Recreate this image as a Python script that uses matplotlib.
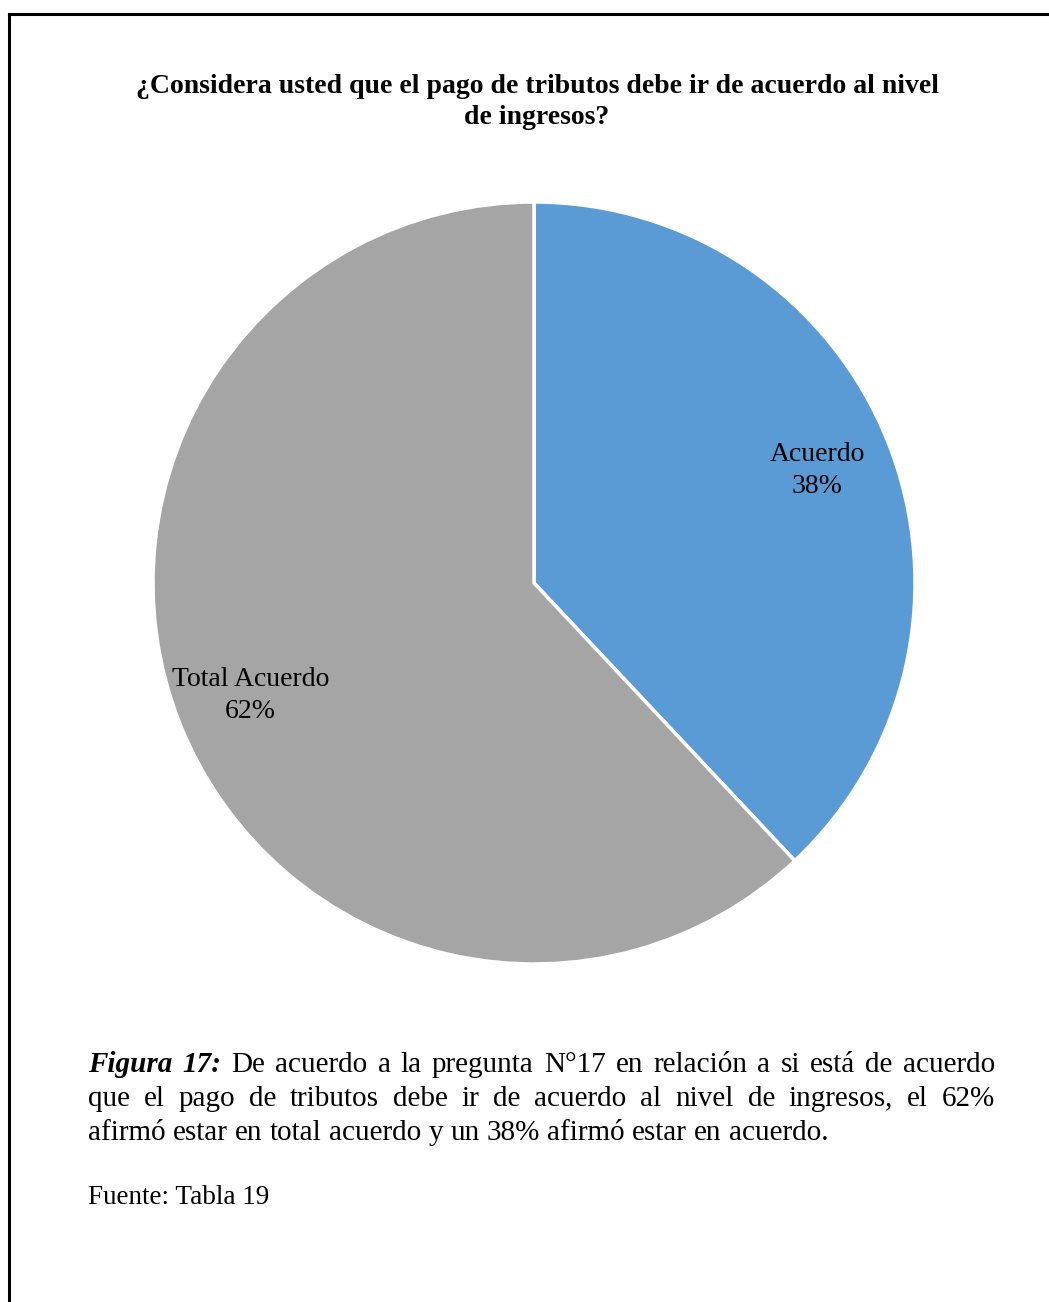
import matplotlib
matplotlib.use('Agg')
import matplotlib.pyplot as plt
from matplotlib.lines import Line2D

# --- DATOS ---
categorias = ['Acuerdo', 'Total Acuerdo']
porcentajes = [38, 62]
colores = ['#5B9BD5', '#A5A5A5']

titulo = '¿Considera usted que el pago de tributos debe ir de acuerdo al nivel\nde ingresos?'
leyenda_lineas = [
    'De acuerdo a la pregunta N°17 en relación a si está de acuerdo',
    'que el pago de tributos debe ir de acuerdo al nivel de ingresos, el 62%',
    'afirmó estar en total acuerdo y un 38% afirmó estar en acuerdo.',
]
fuente = 'Fuente: Tabla 19'

W, H = 1049, 1302
plt.rcParams['font.family'] = ['Liberation Serif', 'DejaVu Serif']
fig = plt.figure(figsize=(W / 100, H / 100), dpi=100)

def fx(px):
    return px / W

def fy(py):
    return 1 - py / H

# marco
fig.add_artist(Line2D([fx(9), fx(9)], [fy(14), 0], color='black', lw=2.2))
fig.add_artist(Line2D([fx(9), 1], [fy(14), fy(14)], color='black', lw=2.2))

# titulo
fig.text(fx(537), fy(102), titulo, ha='center', va='center', fontsize=20,
         fontweight='bold', linespacing=1.3)

# --- PASTEL ---
cx, cy, r = 534, 583, 381
ax = fig.add_axes([fx(cx - r), fy(cy + r), (2 * r) / W, (2 * r) / H])
etiquetas = [f'{c}\n{p}%' for c, p in zip(categorias, porcentajes)]
wedges, textos = ax.pie(porcentajes, labels=etiquetas, colors=colores, startangle=90,
                        counterclock=False, labeldistance=0.8,
                        wedgeprops=dict(edgecolor='white', linewidth=2.5),
                        textprops=dict(fontsize=20, linespacing=1.35))
for t in textos:
    t.set_ha('center')
    t.set_va('center')
ax.set_xlim(-1, 1)
ax.set_ylim(-1, 1)
ax.set_aspect('equal')
ax.axis('off')

# --- LEYENDA JUSTIFICADA ---
fig.canvas.draw()
renderer = fig.canvas.get_renderer()
x0, x1 = 88, 995
ys = [1065, 1099, 1133]
fs = 21

def ancho(txt, **kw):
    t = fig.text(0, 0, txt, fontsize=fs, **kw)
    w = t.get_window_extent(renderer).width
    t.remove()
    return w

for i, (linea, y) in enumerate(zip(leyenda_lineas, ys)):
    palabras = [(p, {}) for p in linea.split()]
    if i == 0:
        palabras = [('Figura', dict(fontweight='bold', style='italic')),
                    ('17:', dict(fontweight='bold', style='italic'))] + palabras
    anchos = [ancho(p, **kw) for p, kw in palabras]
    if i < len(leyenda_lineas) - 1:
        gap = (x1 - x0 - sum(anchos)) / (len(palabras) - 1)
    else:
        gap = ancho('a a') - ancho('aa')
    x = x0
    for (p, kw), w in zip(palabras, anchos):
        fig.text(fx(x), fy(y), p, fontsize=fs, ha='left', va='center', **kw)
        x += w + gap

fig.text(fx(88), fy(1198), fuente, fontsize=19.5, ha='left', va='center')

fig.savefig('out.png', dpi=100)
